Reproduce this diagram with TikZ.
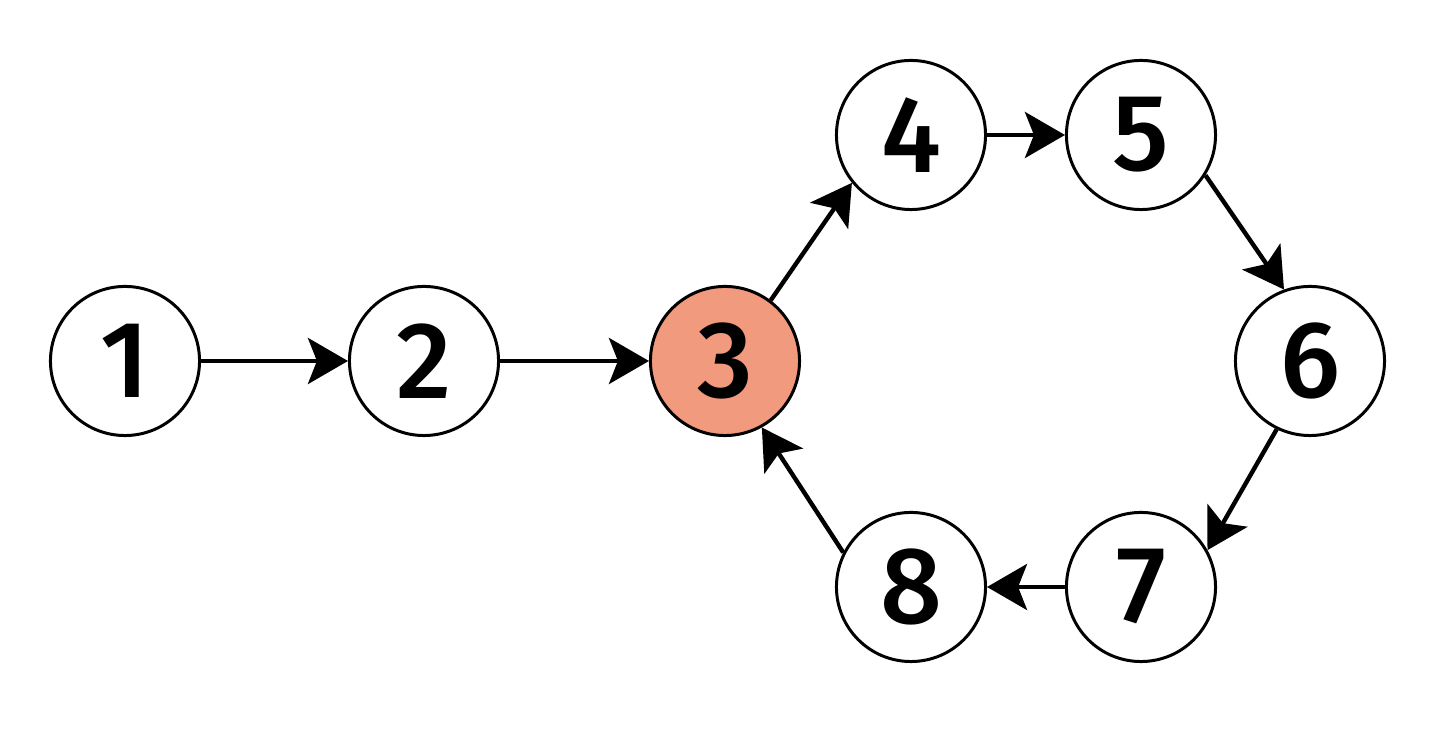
\documentclass[tikz,border=0pt]{standalone}
\usepackage{fontspec}
\setmainfont{Fira Sans Medium}
\usetikzlibrary{arrows.meta}
\definecolor{salmon}{HTML}{F19A7D}
\begin{document}
\begin{tikzpicture}[x=0.01cm,y=-0.01cm,
  vnode/.style={circle,draw=black,line width=0.85pt,minimum size=1.49cm,inner sep=0pt,fill=white,font=\fontsize{31}{31}\selectfont},
  edge/.style={line width=1.25pt,-{Stealth[length=0.40cm,width=0.46cm,inset=0.09cm]}}]
\useasboundingbox (0,0) rectangle (1456,731);
\node[vnode] (n1) at (125,361) {1};
\node[vnode] (n2) at (424,361) {2};
\node[vnode,fill=salmon] (n3) at (725,361) {3};
\node[vnode] (n4) at (911,135) {4};
\node[vnode] (n5) at (1141,135) {5};
\node[vnode] (n6) at (1310,361) {6};
\node[vnode] (n7) at (1141,587) {7};
\node[vnode] (n8) at (911,587) {8};
\draw[edge] (n1) -- (n2);
\draw[edge] (n2) -- (n3);
\draw[edge] (n3.53) -- (n4.219);
\draw[edge] (n4) -- (n5);
\draw[edge] (n5.328) -- (n6.110);
\draw[edge] (n6.244) -- (n7.29);
\draw[edge] (n7) -- (n8);
\draw[edge] (n8.153) -- (n3.299);
\end{tikzpicture}
\end{document}
